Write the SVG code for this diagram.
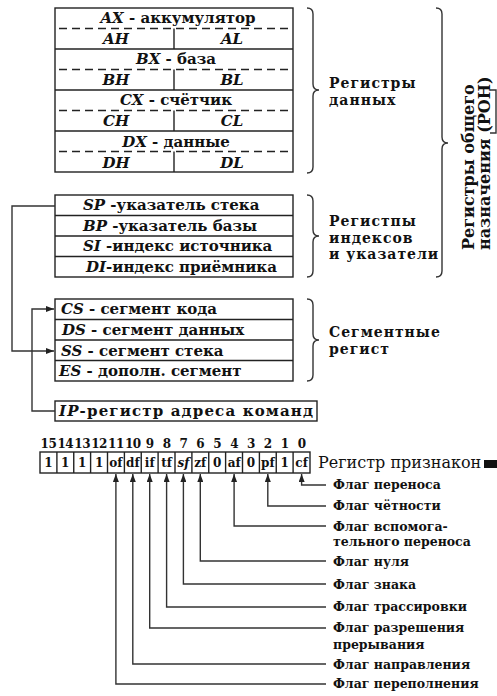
<svg xmlns="http://www.w3.org/2000/svg" width="497" height="696" viewBox="0 0 497 696">
<style>
.box{fill:#fff;stroke:#222;stroke-width:1.4}
.ln{stroke:#222;stroke-width:1.4;fill:none}
.dash{stroke:#222;stroke-width:1.4;stroke-dasharray:8 5;fill:none}
.con{stroke:#333;stroke-width:1.4;fill:none}
.br{stroke:#333;stroke-width:1.4;fill:none}
text{font-family:"DejaVu Serif","Liberation Serif",serif;font-weight:bold;fill:#111}
.reg{font-size:15px}
.it{font-style:italic}
.lbl{font-size:14px;letter-spacing:1px}
.vlbl{font-size:16px}
.bit{font-size:12px;text-anchor:middle;letter-spacing:-0.5px}
.cell{font-size:12px;text-anchor:middle}
.flag{font-size:12.5px}
.mid{text-anchor:middle}
</style>
<defs>
<marker id="ar" viewBox="0 0 8 6" refX="8" refY="3" markerWidth="8" markerHeight="6" markerUnits="userSpaceOnUse" orient="auto">
<path d="M0,0 L8,3 L0,6 Z" fill="#222"/>
</marker>
</defs>

<g id="data-registers">
<rect class="box" x="55" y="8" width="238" height="164"/>
<line class="ln" x1="55" y1="49" x2="293" y2="49"/>
<line class="ln" x1="55" y1="90" x2="293" y2="90"/>
<line class="ln" x1="55" y1="131" x2="293" y2="131"/>
<line class="dash" x1="59" y1="28.5" x2="290" y2="28.5"/>
<line class="dash" x1="59" y1="69.5" x2="290" y2="69.5"/>
<line class="dash" x1="59" y1="110.5" x2="290" y2="110.5"/>
<line class="dash" x1="59" y1="151.5" x2="290" y2="151.5"/>
<line class="ln" x1="174" y1="28.5" x2="174" y2="49"/>
<line class="ln" x1="174" y1="69.5" x2="174" y2="90"/>
<line class="ln" x1="174" y1="110.5" x2="174" y2="131"/>
<line class="ln" x1="174" y1="151.5" x2="174" y2="172"/>
<text class="reg mid" x="178" y="23"><tspan class="it">AX</tspan> - аккумулятор</text>
<text class="reg mid it" x="116" y="44">AH</text>
<text class="reg mid it" x="232" y="44">AL</text>
<text class="reg mid" x="176" y="64"><tspan class="it">BX</tspan> - база</text>
<text class="reg mid it" x="116" y="85">BH</text>
<text class="reg mid it" x="232" y="85">BL</text>
<text class="reg mid" x="176" y="105"><tspan class="it">CX</tspan> - счётчик</text>
<text class="reg mid it" x="116" y="126">CH</text>
<text class="reg mid it" x="232" y="126">CL</text>
<text class="reg mid" x="176" y="147"><tspan class="it">DX</tspan> - данные</text>
<text class="reg mid it" x="116" y="168">DH</text>
<text class="reg mid it" x="232" y="168">DL</text>
</g>

<g id="index-registers">
<rect class="box" x="55" y="195" width="238" height="82"/>
<line class="ln" x1="55" y1="215.5" x2="293" y2="215.5"/>
<line class="ln" x1="55" y1="236" x2="293" y2="236"/>
<line class="ln" x1="55" y1="256.5" x2="293" y2="256.5"/>
<text class="reg" x="83" y="210"><tspan class="it">SP</tspan> -указатель стека</text>
<text class="reg" x="83" y="231"><tspan class="it">BP</tspan> -указатель базы</text>
<text class="reg" x="83" y="251"><tspan class="it">SI</tspan> -индекс источника</text>
<text class="reg" x="86" y="272"><tspan class="it">DI</tspan>-индекс приёмника</text>
</g>

<g id="segment-registers">
<rect class="box" x="55" y="299" width="238" height="82"/>
<line class="ln" x1="55" y1="319.5" x2="293" y2="319.5"/>
<line class="ln" x1="55" y1="340" x2="293" y2="340"/>
<line class="ln" x1="55" y1="360.5" x2="293" y2="360.5"/>
<text class="reg" x="61" y="314"><tspan class="it">CS</tspan> - сегмент кода</text>
<text class="reg" x="62" y="335"><tspan class="it">DS</tspan> - сегмент данных</text>
<text class="reg" x="61" y="356"><tspan class="it">SS</tspan> - сегмент стека</text>
<text class="reg" x="59" y="376"><tspan class="it">ES</tspan> - дополн. сегмент</text>
</g>

<g id="ip-register">
<rect class="box" x="55" y="401" width="262" height="20"/>
<text class="reg" x="59" y="416" textLength="254" lengthAdjust="spacing"><tspan class="it">IP</tspan>-регистр адреса команд</text>
</g>

<g id="braces">
<path class="br" d="M307,8 Q313,8 313,14 L313,84 Q313,90 319,90 Q313,90 313,96 L313,167 Q313,173 307,173"/>
<path class="br" d="M307,195 Q313,195 313,201 L313,230 Q313,236 319,236 Q313,236 313,242 L313,271 Q313,277 307,277"/>
<path class="br" d="M307,299 Q313,299 313,305 L313,334 Q313,340 319,340 Q313,340 313,346 L313,375 Q313,381 307,381"/>
<path class="br" d="M436,8 Q442,8 442,14 L442,137 Q442,143 448,143 Q442,143 442,149 L442,271 Q442,277 436,277"/>
<path class="br" d="M490,90 L496,90 L496,133 L490,133"/>
</g>

<g id="group-labels">
<text class="lbl" x="329" y="88">Регистры<tspan x="329" dy="16.5">данных</tspan></text>
<text class="lbl" x="329" y="226">Регистпы<tspan x="329" dy="16.5">индексов</tspan><tspan x="329" dy="16.5">и указатели</tspan></text>
<text class="lbl" x="329" y="337">Сегментные<tspan x="329" dy="16.5">регист</tspan></text>
<text class="vlbl" transform="translate(474,250) rotate(-90)">Регистры общего<tspan x="0" dy="16">назначения (РОН)</tspan></text>
</g>

<g id="flags-register">
<rect class="box" x="40" y="452" width="270" height="21"/>
<g class="ln">
<line x1="56.9" y1="452" x2="56.9" y2="473"/><line x1="73.75" y1="452" x2="73.75" y2="473"/>
<line x1="90.6" y1="452" x2="90.6" y2="473"/><line x1="107.5" y1="452" x2="107.5" y2="473"/>
<line x1="124.4" y1="452" x2="124.4" y2="473"/><line x1="141.25" y1="452" x2="141.25" y2="473"/>
<line x1="158.1" y1="452" x2="158.1" y2="473"/><line x1="175" y1="452" x2="175" y2="473"/>
<line x1="191.9" y1="452" x2="191.9" y2="473"/><line x1="208.75" y1="452" x2="208.75" y2="473"/>
<line x1="225.6" y1="452" x2="225.6" y2="473"/><line x1="242.5" y1="452" x2="242.5" y2="473"/>
<line x1="259.4" y1="452" x2="259.4" y2="473"/><line x1="276.25" y1="452" x2="276.25" y2="473"/>
<line x1="293.1" y1="452" x2="293.1" y2="473"/>
</g>
<text class="bit" x="48.4" y="448">15</text><text class="bit" x="65.3" y="448">14</text>
<text class="bit" x="82.2" y="448">13</text><text class="bit" x="99.1" y="448">12</text>
<text class="bit" x="115.9" y="448">11</text><text class="bit" x="132.8" y="448">10</text>
<text class="bit" x="149.7" y="448">9</text><text class="bit" x="166.6" y="448">8</text>
<text class="bit" x="183.4" y="448">7</text><text class="bit" x="200.3" y="448">6</text>
<text class="bit" x="217.2" y="448">5</text><text class="bit" x="234.1" y="448">4</text>
<text class="bit" x="250.9" y="448">3</text><text class="bit" x="267.8" y="448">2</text>
<text class="bit" x="284.7" y="448">1</text><text class="bit" x="301.6" y="448">0</text>
<text class="cell" x="48.4" y="467">1</text><text class="cell" x="65.3" y="467">1</text>
<text class="cell" x="82.2" y="467">1</text><text class="cell" x="99.1" y="467">1</text>
<text class="cell" x="115.9" y="467">of</text><text class="cell" x="132.8" y="467">df</text>
<text class="cell" x="149.7" y="467">if</text><text class="cell" x="166.6" y="467">tf</text>
<text class="cell it" x="183.4" y="467">sf</text><text class="cell" x="200.3" y="467">zf</text>
<text class="cell" x="217.2" y="467">0</text><text class="cell" x="234.1" y="467">af</text>
<text class="cell" x="250.9" y="467">0</text><text class="cell" x="267.8" y="467">pf</text>
<text class="cell" x="284.7" y="467">1</text><text class="cell" x="301.6" y="467">cf</text>
<text x="318" y="468" style="font-size:16px;font-weight:normal">Регистр признакон</text>
<rect x="484" y="460" width="13" height="8" fill="#111"/>
</g>

<g id="flag-labels">
<text class="flag" x="333" y="489">Флаг переноса</text>
<text class="flag" x="333" y="510">Флаг чётности</text>
<text class="flag" x="333" y="531">Флаг вспомога-<tspan x="333" dy="15">тельного переноса</tspan></text>
<text class="flag" x="333" y="566">Флаг нуля</text>
<text class="flag" x="333" y="589">Флаг знака</text>
<text class="flag" x="333" y="611">Флаг трассировки</text>
<text class="flag" x="333" y="632">Флаг разрешения<tspan x="333" dy="17">прерывания</tspan></text>
<text class="flag" x="333" y="669">Флаг направления</text>
<text class="flag" x="333" y="688">Флаг переполнения</text>
</g>

<g id="connectors">
<polyline class="con" points="55,206 12,206 12,351 54,351" marker-end="url(#ar)"/>
<polyline class="con" points="55,411 32,411 32,309 54,309" marker-end="url(#ar)"/>
<polyline class="con" points="326,485 301.6,485 301.6,474" marker-end="url(#ar)"/>
<polyline class="con" points="326,506 267.8,506 267.8,474" marker-end="url(#ar)"/>
<polyline class="con" points="326,526 234.1,526 234.1,474" marker-end="url(#ar)"/>
<polyline class="con" points="326,561 200.3,561 200.3,474" marker-end="url(#ar)"/>
<polyline class="con" points="326,584 183.4,584 183.4,474" marker-end="url(#ar)"/>
<polyline class="con" points="326,607 166.6,607 166.6,474" marker-end="url(#ar)"/>
<polyline class="con" points="326,628 149.7,628 149.7,474" marker-end="url(#ar)"/>
<polyline class="con" points="326,664 132.8,664 132.8,474" marker-end="url(#ar)"/>
<polyline class="con" points="326,684 115.9,684 115.9,474" marker-end="url(#ar)"/>
</g>
</svg>
